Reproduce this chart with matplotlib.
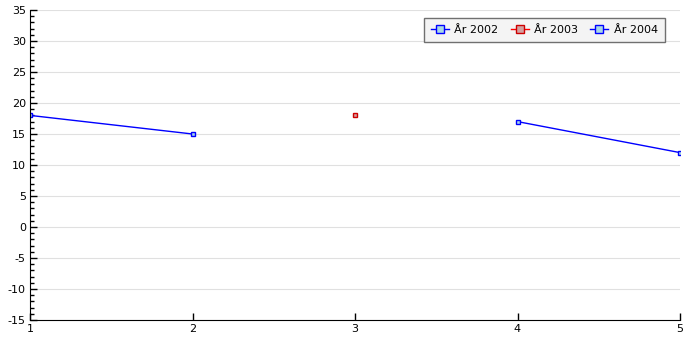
import matplotlib
matplotlib.use("Agg")
import matplotlib.pyplot as plt
from matplotlib.ticker import MultipleLocator

x_2002 = [1, 2]
y_2002 = [18, 15]
x_2003 = [3]
y_2003 = [18]
x_2004 = [4, 5]
y_2004 = [17, 12]
labels = ["År 2002", "År 2003", "År 2004"]

plt.rcParams["font.family"] = "DejaVu Sans"
plt.rcParams["font.size"] = 8
plt.rcParams["axes.unicode_minus"] = False

fig = plt.figure(figsize=(7, 3.5), dpi=100)
ax = fig.add_axes([30 / 700, 30 / 350, 650 / 700, 310 / 350])

ax.plot(x_2002, y_2002, color="#0000ff", lw=1, marker="s", ms=3.5,
        mfc="#aad8e6", mec="#0000ff", mew=1, label=labels[0])
ax.plot(x_2003, y_2003, color="#ff0000", lw=1, marker="s", ms=3.5,
        mfc="#d4a0a0", mec="#cc0000", mew=1, label=labels[1])
ax.plot(x_2004, y_2004, color="#0000ff", lw=1, marker="s", ms=3.5,
        mfc="#aad8e6", mec="#0000ff", mew=1, label=labels[2])

ax.set_xlim(1, 5)
ax.set_ylim(-15, 35)
ax.set_xticks([1, 2, 3, 4, 5])
ax.yaxis.set_major_locator(MultipleLocator(5))
ax.yaxis.set_minor_locator(MultipleLocator(1))
ax.grid(axis="y", color="#e0e0e0", lw=0.8)
ax.set_axisbelow(True)

for side in ("top", "right"):
    ax.spines[side].set_visible(False)

ax.tick_params(axis="y", which="major", direction="in", length=5, width=1, pad=3)
ax.tick_params(axis="y", which="minor", direction="in", length=3, width=1)
ax.tick_params(axis="x", which="major", direction="in", length=5, width=1, pad=3)

leg = ax.legend(loc="upper right", bbox_to_anchor=(635 / 650, 302 / 310), ncol=3,
                frameon=True, fancybox=False, fontsize=8, handlelength=1.6,
                columnspacing=1.1, handletextpad=0.5, borderpad=0.65,
                borderaxespad=0, markerscale=1.6)
leg.get_frame().set_edgecolor("#707070")
leg.get_frame().set_facecolor("#f4f4f4")
leg.get_frame().set_alpha(1)
leg.get_frame().set_linewidth(1)

fig.savefig("out.png", dpi=100, facecolor="white")
